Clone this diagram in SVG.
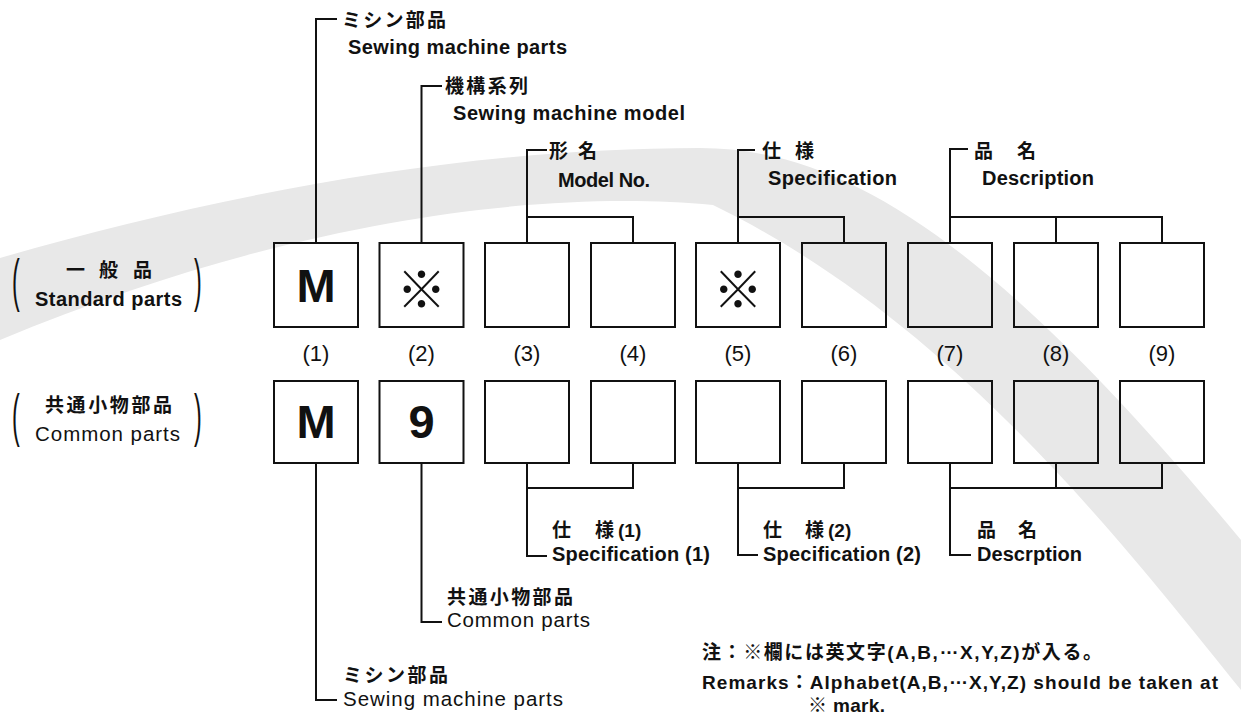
<svg xmlns="http://www.w3.org/2000/svg" width="1241" height="716" viewBox="0 0 1241 716">
<style>
.box{fill:none;stroke:#111;stroke-width:2}
.ln{fill:none;stroke:#111;stroke-width:2}
.en{font-family:"Liberation Sans",Arial,sans-serif;font-weight:bold;font-size:20px;fill:#111}
.rg{font-weight:normal;font-size:20.5px}
.jp{font-family:"Noto Sans CJK JP","Noto Sans CJK SC",sans-serif;font-weight:bold;font-size:19px;fill:#111}
.mx{font-family:"Liberation Sans","Noto Sans CJK JP",sans-serif;font-weight:bold;font-size:19px;fill:#111}
.num{font-family:"Liberation Sans",Arial,sans-serif;font-size:22px;fill:#111;text-anchor:middle}
.big{font-family:"Liberation Sans",Arial,sans-serif;font-weight:bold;font-size:47px;fill:#111;text-anchor:middle}
.kome{font-family:"Noto Sans CJK JP",sans-serif;font-size:50px;fill:#111;text-anchor:middle;dominant-baseline:central}
.par{font-family:"Liberation Sans",Arial,sans-serif;font-size:58px;fill:#111}
</style>
<rect width="1241" height="716" fill="#fff"/>
<path id="watermark" d="M0 258 C200 200 450 148 700 148 C850 148 1000 250 1241 540 L1241 690 C1120 540 950 320 713 205 C550 190 300 215 0 340 Z" fill="#e8e8e8"/>

<g id="connectors">
<path class="ln" d="M316 243 V19 H337"/>
<path class="ln" d="M421.5 243 V86 H442"/>
<path class="ln" d="M527 243 V150 H547 M527 217 H633 V243"/>
<path class="ln" d="M738 243 V150 H755 M738 217 H844 V243"/>
<path class="ln" d="M950 243 V149 H968 M950 217 H1162 V243 M1056 217 V243"/>
<path class="ln" d="M316 463 V700 H337"/>
<path class="ln" d="M421.5 463 V622 H442"/>
<path class="ln" d="M633 463 V488 H527 M527 463 V556 H547"/>
<path class="ln" d="M844 463 V488 H738 M738 463 V555 H758"/>
<path class="ln" d="M1162 463 V488 H950 M1056 463 V488 M950 463 V555 H971"/>
</g>

<g id="row-standard">
<g id="s1"><rect class="box" x="274" y="243" width="84" height="84"/><text class="big" x="316" y="302">M</text></g>
<g id="s2"><rect class="box" x="379.5" y="243" width="84" height="84"/><text class="kome" x="421.5" y="286">※</text></g>
<g id="s3"><rect class="box" x="485" y="243" width="84" height="84"/></g>
<g id="s4"><rect class="box" x="591" y="243" width="84" height="84"/></g>
<g id="s5"><rect class="box" x="696" y="243" width="84" height="84"/><text class="kome" x="738" y="286">※</text></g>
<g id="s6"><rect class="box" x="802" y="243" width="84" height="84"/></g>
<g id="s7"><rect class="box" x="908" y="243" width="84" height="84"/></g>
<g id="s8"><rect class="box" x="1014" y="243" width="84" height="84"/></g>
<g id="s9"><rect class="box" x="1120" y="243" width="84" height="84"/></g>
</g>

<g id="numbers">
<text class="num" x="316" y="361">(1)</text>
<text class="num" x="421.5" y="361">(2)</text>
<text class="num" x="527" y="361">(3)</text>
<text class="num" x="633" y="361">(4)</text>
<text class="num" x="738" y="361">(5)</text>
<text class="num" x="844" y="361">(6)</text>
<text class="num" x="950" y="361">(7)</text>
<text class="num" x="1056" y="361">(8)</text>
<text class="num" x="1162" y="361">(9)</text>
</g>

<g id="row-common">
<g id="c1"><rect class="box" x="274" y="381" width="84" height="82"/><text class="big" x="316" y="438">M</text></g>
<g id="c2"><rect class="box" x="379.5" y="381" width="84" height="82"/><text class="big" x="421.5" y="438">9</text></g>
<g id="c3"><rect class="box" x="485" y="381" width="84" height="82"/></g>
<g id="c4"><rect class="box" x="591" y="381" width="84" height="82"/></g>
<g id="c5"><rect class="box" x="696" y="381" width="84" height="82"/></g>
<g id="c6"><rect class="box" x="802" y="381" width="84" height="82"/></g>
<g id="c7"><rect class="box" x="908" y="381" width="84" height="82"/></g>
<g id="c8"><rect class="box" x="1014" y="381" width="84" height="82"/></g>
<g id="c9"><rect class="box" x="1120" y="381" width="84" height="82"/></g>
</g>

<g id="left-labels">
<text class="par" transform="translate(12,300) scale(0.4,1)">(</text>
<text class="par" transform="translate(194,300) scale(0.4,1)">)</text>
<text class="jp"><tspan x="66" y="277">一</tspan><tspan x="99" y="277">般</tspan><tspan x="133" y="277">品</tspan></text>
<text class="en" x="35" y="306" textLength="147">Standard parts</text>
<text class="par" transform="translate(12,435) scale(0.4,1)">(</text>
<text class="par" transform="translate(194,435) scale(0.4,1)">)</text>
<text class="jp" x="45" y="412" textLength="127">共通小物部品</text>
<text class="en rg" x="35" y="441" textLength="145">Common parts</text>
</g>

<g id="top-labels">
<text class="jp" x="342" y="27" textLength="104">ミシン部品</text>
<text class="en" x="348" y="54" textLength="219">Sewing machine parts</text>
<text class="jp" x="445" y="93" textLength="83">機構系列</text>
<text class="en" x="453" y="120" textLength="232">Sewing machine model</text>
<text class="jp"><tspan x="549" y="158">形</tspan><tspan x="578" y="158">名</tspan></text>
<text class="en" x="558" y="187" textLength="92">Model No.</text>
<text class="jp"><tspan x="762" y="158">仕</tspan><tspan x="795" y="158">様</tspan></text>
<text class="en" x="768" y="185" textLength="129">Specification</text>
<text class="jp"><tspan x="974" y="158">品</tspan><tspan x="1017" y="158">名</tspan></text>
<text class="en" x="982" y="185" textLength="112">Description</text>
</g>

<g id="bottom-labels">
<text class="mx"><tspan x="552" y="537">仕</tspan><tspan x="595" y="537">様</tspan><tspan x="618" y="537">(1)</tspan></text>
<text class="en" x="552" y="561" textLength="158">Specification (1)</text>
<text class="mx"><tspan x="763" y="537">仕</tspan><tspan x="805" y="537">様</tspan><tspan x="828" y="537">(2)</tspan></text>
<text class="en" x="763" y="561" textLength="158">Specification (2)</text>
<text class="jp"><tspan x="977" y="537">品</tspan><tspan x="1018" y="537">名</tspan></text>
<text class="en" x="977" y="561" textLength="105">Descrption</text>
<text class="jp" x="447" y="604" textLength="126">共通小物部品</text>
<text class="en rg" x="447" y="627" textLength="143">Common parts</text>
<text class="jp" x="343" y="682" textLength="105">ミシン部品</text>
<text class="en rg" x="343" y="706" textLength="220">Sewing machine parts</text>
</g>

<g id="remarks">
<text class="mx" x="702" y="659" textLength="400">注：※欄には英文字(A,B,<tspan dy="-5">…</tspan><tspan dy="5">X,Y,Z)が入る。</tspan></text>
<text class="mx" x="702" y="689" textLength="516">Remarks：Alphabet(A,B,<tspan dy="-5">…</tspan><tspan dy="5">X,Y,Z) should be taken at</tspan></text>
<text class="mx" x="808" y="712" textLength="77">※ mark.</text>
</g>
</svg>
